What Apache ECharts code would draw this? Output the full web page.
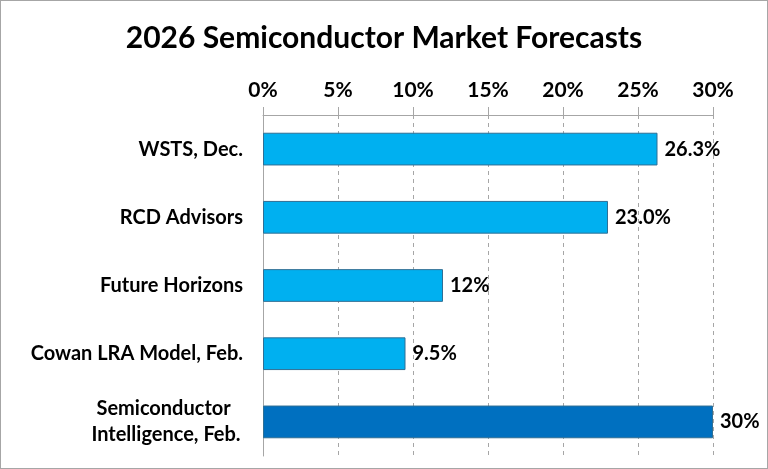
<!DOCTYPE html>
<html><head><meta charset="utf-8">
<script src="https://cdn.jsdelivr.net/npm/echarts@6/dist/echarts.min.js"></script>
<style>html,body{margin:0;padding:0;background:#fff}#c{width:766px;height:467px;border:1px solid #a6a6a6}</style>
</head><body><div id="c"></div>
<script>
const categories = ['WSTS, Dec.', 'RCD Advisors', 'Future Horizons', 'Cowan LRA Model, Feb.', 'Semiconductor \nIntelligence, Feb.'];
const values = [26.3, 23.0, 12, 9.5, 30];
const valueLabels = ['26.3%', '23.0%', '12%', '9.5%', '30%'];
const barColors = ['#00B0F0', '#00B0F0', '#00B0F0', '#00B0F0', '#0070C0'];
const tickLabels = ['0%', '5%', '10%', '15%', '20%', '25%', '30%'];

const chart = echarts.init(document.getElementById('c'));
const font = 'Lato, "Open Sans", sans-serif';
chart.setOption({
  animation: false,
  title: {text: '2026 Semiconductor Market Forecasts', left: 'center', top: 17,
    textStyle: {fontFamily: font, fontWeight: 'bold', fontSize: 30, color: '#000'}},
  grid: {left: 262, right: 54, top: 114, bottom: 12, containLabel: false},
  xAxis: {type: 'value', position: 'top', min: 0, max: 30, interval: 5,
    axisLine: {show: true, lineStyle: {color: '#a6a6a6', width: 1}},
    axisTick: {show: true, length: 8, lineStyle: {color: '#a6a6a6'}},
    splitLine: {show: true, lineStyle: {color: '#a6a6a6', type: [4, 4]}},
    axisLabel: {margin: 14, fontFamily: font, fontWeight: 'bold', fontSize: 21, color: '#000',
      formatter: (v) => tickLabels[Math.round(v / 5)]}
  },
  yAxis: {type: 'category', inverse: true, data: categories,
    axisLine: {show: true, lineStyle: {color: '#a6a6a6'}},
    axisTick: {show: false},
    axisLabel: {margin: 20, fontFamily: font, fontWeight: 'bold', fontSize: 20, color: '#000', lineHeight: 26,
      formatter: (v) => v.indexOf('\n') >= 0 ? v.split('\n').map(s => '{c|' + s + '}').join('\n') : v,
      rich: {c: {width: 154, align: 'center', fontFamily: font, fontWeight: 'bold', fontSize: 20, color: '#000', lineHeight: 26}}}
  },
  series: [{type: 'bar', barWidth: '48%',
    data: values.map((v, i) => ({value: v, itemStyle: {color: barColors[i]}})),
    itemStyle: {borderColor: '#2f6f95', borderWidth: 1},
    label: {show: true, position: 'right', distance: 7, fontFamily: font, fontWeight: 'bold', fontSize: 20, color: '#000',
      formatter: (p) => valueLabels[p.dataIndex]}
  }]
});
</script></body></html>
